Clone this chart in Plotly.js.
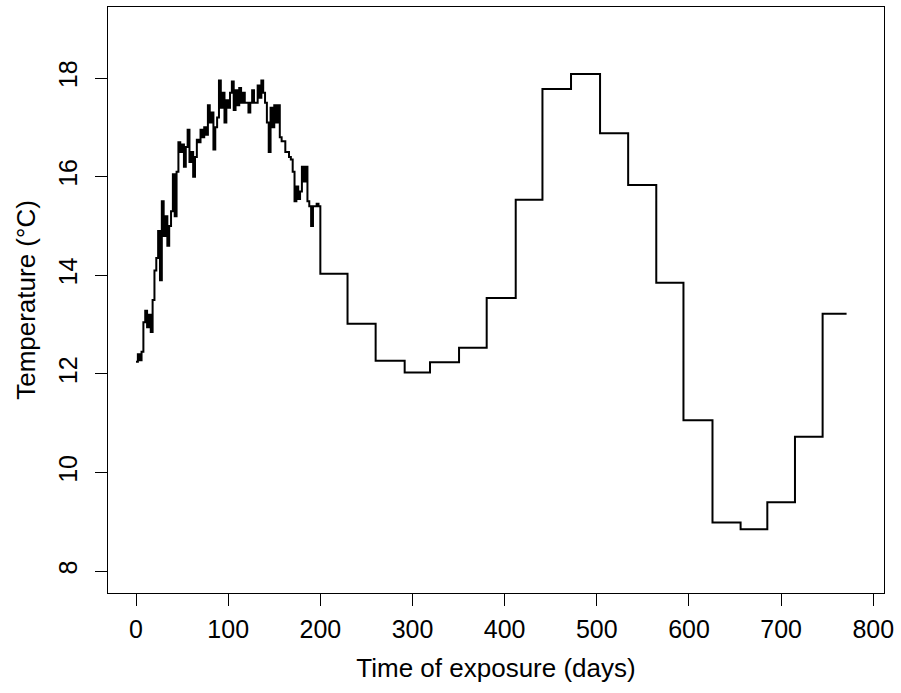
<!DOCTYPE html>
<html>
<head>
<meta charset="utf-8">
<script src="https://cdn.plot.ly/plotly-3.0.1.min.js"></script>
<style>html,body{margin:0;padding:0;background:#fff;}#chart{width:901px;height:693px;}</style>
</head>
<body>
<div id="chart"></div>
<script>
// Early, densely logged period (days 0-198)
const dailyDays = [0,2,4,6,8,10,12,14,16,18,20,22,24,26,28,30,32,34,36,38,
  40,42,44,46,48,50,52,54,56,58,60,62,64,66,68,70,72,74,76,78,
  80,82,84,86,88,90,92,94,96,98,100,102,104,106,108,110,112,114,116,118,
  120,122,124,126,128,130,132,134,136,138,140,142,144,146,148,150,152,154,156,158,
  160,162,164,166,168,170,172,174,176,178,180,182,184,186,188,190,192,194,196,198];
const dailyTemp = [12.25,12.4,12.28,12.45,13.05,13.28,12.95,13.2,12.85,13.5,
  14.1,14.35,14.9,13.9,15.5,14.8,15.2,14.6,15.0,15.3,
  16.05,15.2,16.1,16.7,16.5,16.65,16.2,16.6,16.95,16.3,
  16.5,16.0,16.4,16.75,16.7,16.95,16.8,17.0,16.85,17.45,
  17.1,17.3,16.55,17.0,17.2,17.95,17.4,17.7,17.1,17.55,
  17.4,17.7,17.93,17.35,17.75,17.45,17.8,17.5,17.7,17.5,
  17.5,17.3,17.5,17.75,17.5,17.5,17.85,17.6,17.95,17.7,
  17.5,17.1,16.5,17.4,17.0,17.45,17.1,17.45,16.8,16.72,
  16.72,16.5,16.5,16.4,16.35,16.1,15.5,15.8,15.55,15.7,
  16.2,15.9,16.2,15.5,15.4,15.0,15.4,15.4,15.45,15.4];
// Monthly period (days 200-771)
const monthlyDays = [200,229.5,260,291.5,319,350.5,380.5,412,441,472,503.5,534,564.5,594,625.5,656,685,715,745,771];
const monthlyTemp = [14.03,13.02,12.27,12.03,12.24,12.53,13.54,15.53,17.78,18.08,16.88,15.83,13.85,11.06,8.99,8.85,9.40,10.73,13.22,13.22];

const xTicks = [0,100,200,300,400,500,600,700,800];
const yTicks = [8,10,12,14,16,18];

const x = dailyDays.concat(monthlyDays);
const y = dailyTemp.concat(monthlyTemp);

const fontFam = 'Liberation Sans, Arial, sans-serif';
const trace = {
  x: x, y: y, type: 'scatter', mode: 'lines',
  line: {shape: 'hv', color: '#000', width: 2},
  hoverinfo: 'x+y'
};
const axisCommon = {
  showgrid: false, zeroline: false, showline: true, mirror: true,
  linecolor: '#000', linewidth: 1, ticks: 'outside', ticklen: 12,
  tickcolor: '#000', tickwidth: 1,
  tickfont: {family: fontFam, size: 25, color: '#000'}
};
const layout = {
  width: 901, height: 693,
  margin: {l: 108, r: 17, t: 7, b: 100},
  paper_bgcolor: '#fff', plot_bgcolor: '#fff',
  showlegend: false,
  xaxis: Object.assign({}, axisCommon, {
    range: [-30.4, 811.6], tickmode: 'array', tickvals: xTicks, ticktext: xTicks.map(String),
    ticklabelstandoff: 2,
    title: {text: 'Time of exposure (days)', font: {family: fontFam, size: 26, color: '#000'}, standoff: 16}
  }),
  yaxis: Object.assign({}, axisCommon, {
    range: [7.56, 19.44], tickmode: 'array', tickvals: yTicks, ticktext: yTicks.map(String),
    tickangle: -90, ticklabelstandoff: 8,
    title: {text: 'Temperature (°C)', font: {family: fontFam, size: 26, color: '#000'}, standoff: 10}
  })
};
Plotly.newPlot('chart', [trace], layout, {displayModeBar: false, staticPlot: true});
</script>
</body>
</html>
